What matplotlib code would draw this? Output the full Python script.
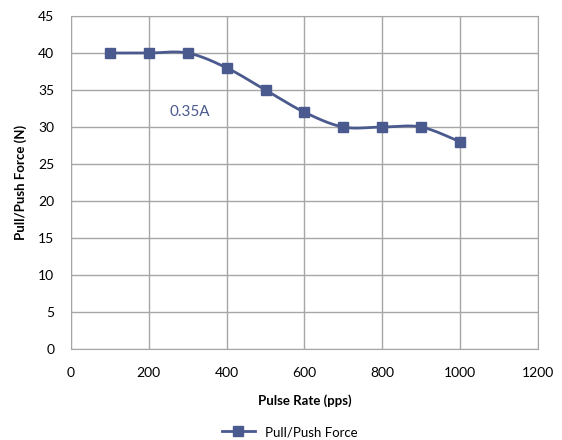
import matplotlib
matplotlib.use("Agg")
import matplotlib.pyplot as plt
import numpy as np
from matplotlib.lines import Line2D

plt.rcParams['font.family'] = ['Lato', 'DejaVu Sans']

pulse_rate = [100, 200, 300, 400, 500, 600, 700, 800, 900, 1000]
force = [40, 40, 40, 38, 35, 32, 30, 30, 30, 28]
series_name = "Pull/Push Force"
note = "0.35A"

line_color = "#4B5A8E"
grid_color = "#A6A6A6"


# smooth line like Excel does (Catmull-Rom via cubic Bezier segments)
def smooth(xs, ys, n=30):
    p = np.column_stack([xs, ys]).astype(float)
    pts = np.vstack([p[0], p, p[-1]])
    out = []
    t = np.linspace(0, 1, n)[:, None]
    for i in range(1, len(pts) - 2):
        p0, p1, p2, p3 = pts[i - 1], pts[i], pts[i + 1], pts[i + 2]
        c1 = p1 + (p2 - p0) / 6
        c2 = p2 - (p3 - p1) / 6
        seg = ((1 - t) ** 3) * p1 + 3 * ((1 - t) ** 2) * t * c1 + 3 * (1 - t) * t ** 2 * c2 + t ** 3 * p2
        out.append(seg)
    out = np.vstack(out)
    return out[:, 0], out[:, 1]


fig = plt.figure(figsize=(5.62, 4.40), dpi=100)
ax = fig.add_axes([0.1263, 0.2068, 0.8307, 0.7568])

sx, sy = smooth(pulse_rate, force)
ax.plot(sx, sy, color=line_color, lw=2, zorder=3)
ax.plot(pulse_rate, force, ls="none", marker="s", ms=7, color=line_color, zorder=4)

ax.set_xlim(0, 1200)
ax.set_ylim(0, 45)
ax.set_xticks(range(0, 1201, 200))
ax.set_yticks(range(0, 46, 5))
ax.grid(True, color=grid_color, lw=1)
ax.set_axisbelow(True)
for s in ax.spines.values():
    s.set_color(grid_color)
ax.tick_params(axis="x", length=0, labelsize=10, pad=13)
ax.tick_params(axis="y", length=0, labelsize=10, pad=12)

ax.set_xlabel("Pulse Rate (pps)", fontsize=9.5, fontweight="bold", labelpad=11)
ax.set_ylabel("Pull/Push Force (N)", fontsize=9.5, fontweight="bold", labelpad=8)

ax.text(306, 32, note, color=line_color, fontsize=11, ha="center", va="center")

handle = Line2D([], [], color=line_color, lw=2, marker="s", ms=7)
fig.legend([handle], [series_name], loc="center", bbox_to_anchor=(0.516, 0.018),
           frameon=False, fontsize=9.5, handlelength=2.5)

fig.savefig("out.png", dpi=100)
